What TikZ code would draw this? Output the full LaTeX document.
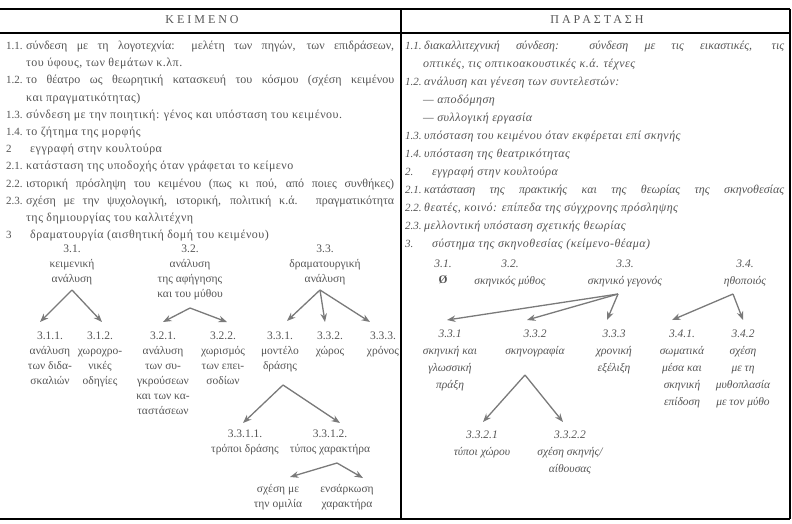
\documentclass[tikz,border=0pt]{standalone}
\usepackage{fontspec}
\setmainfont{Liberation Serif}
\usetikzlibrary{arrows.meta}
\definecolor{txt}{HTML}{555555}
\definecolor{arr}{HTML}{7A7A7A}
\newcommand\fsz{\fontsize{11.5}{15}\selectfont}
\newcommand\fszr{\fontsize{11.5}{17}\selectfont}
\newcommand\fszl{\fontsize{12}{15}\selectfont\addfontfeature{LetterSpace=4}}
\newcommand\fszn{\fontsize{11}{15}\selectfont}
\newcommand\fullL[1]{{\addfontfeature{LetterSpace=0}\makebox[368pt][s]{#1}}}
\newcommand\fullR[1]{{\addfontfeature{LetterSpace=0}\makebox[360pt][s]{#1}}}
\begin{document}
\begin{tikzpicture}[x=1pt,y=-1pt,
  lt/.style={anchor=mid west, inner sep=0pt, font=\fszl, text=txt},
  rt/.style={anchor=mid west, inner sep=0pt, font=\fszl\itshape, text=txt},
  ln/.style={anchor=mid west, inner sep=0pt, font=\fszn, text=txt},
  rn/.style={anchor=mid west, inner sep=0pt, font=\fszn\itshape, text=txt},
  ct/.style={anchor=north, align=center, inner sep=0pt, font=\fsz, text=txt},
  rct/.style={anchor=north, align=center, inner sep=0pt, font=\fszr\itshape, text=txt},
  hd/.style={anchor=mid, inner sep=0pt, font=\fontsize{12}{14}\selectfont\addfontfeature{LetterSpace=25}, text=txt},
  arw/.style={draw=arr, line width=1.3pt, -{Stealth[length=8.5pt,width=6.5pt]}},
  rule/.style={draw=black, line width=1.8pt},
  vrule/.style={draw=black, line width=1.3pt}]
\useasboundingbox (0,0) rectangle (792,523);
\fill[white] (0,0) rectangle (792,523);
% frame
\draw[draw=black, line width=1.4pt] (0,9) -- (790,9);
\draw[rule] (0,33) -- (790,33);
\draw[draw=black, line width=2.2pt] (0,519) -- (790,519);
\draw[vrule] (401,9) -- (401,519);
\draw[vrule] (790,9) -- (790,519);
% headers
\node[hd] (hk) at (202,21) {ΚΕΙΜΕΝΟ};
\node[hd] (hp) at (597,21) {ΠΑΡΑΣΤΑΣΗ};
% ---------------- left list
\node[ln] (ln1) at (6,47) {1.1.};
\node[lt] (lt1) at (26,47) {\fullL{σύνδεση με τη λογοτεχνία: μελέτη των πηγών, των επιδράσεων,}};
\node[lt] (lt1b) at (26,64) {του ύφους, των θεμάτων κ.λπ.};
\node[ln] (ln2) at (6,81) {1.2.};
\node[lt] (lt2) at (26,81) {\fullL{το θέατρο ως θεωρητική κατασκευή του κόσμου (σχέση κειμένου}};
\node[lt] (lt2b) at (26,99) {και πραγματικότητας)};
\node[ln] (ln3) at (6,116) {1.3.};
\node[lt] (lt3) at (26,116) {σύνδεση με την ποιητική: γένος και υπόσταση του κειμένου.};
\node[ln] (ln4) at (6,133) {1.4.};
\node[lt] (lt4) at (26,133) {το ζήτημα της μορφής};
\node[ln] (ln5) at (6,150) {2};
\node[lt] (lt5) at (30,150) {εγγραφή στην κουλτούρα};
\node[ln] (ln6) at (6,167) {2.1.};
\node[lt] (lt6) at (26,167) {κατάσταση της υποδοχής όταν γράφεται το κείμενο};
\node[ln] (ln7) at (6,185) {2.2.};
\node[lt] (lt7) at (26,185) {\fullL{ιστορική πρόσληψη του κειμένου (πως κι πού, από ποιες συνθήκες)}};
\node[ln] (ln8) at (6,202) {2.3.};
\node[lt] (lt8) at (26,202) {\fullL{σχέση με την ψυχολογική, ιστορική, πολιτική κ.ά. πραγματικότητα}};
\node[lt] (lt8b) at (26,219) {της δημιουργίας του καλλιτέχνη};
\node[ln] (ln9) at (6,236) {3};
\node[lt] (lt9) at (30,236) {δραματουργία (αισθητική δομή του κειμένου)};
% ---------------- left tree
\node[ct] (p31) at (72,244.5) {3.1.\\κειμενική\\ανάλυση};
\node[ct] (p32) at (190,244.5) {3.2.\\ανάλυση\\της αφήγησης\\και του μύθου};
\node[ct] (p33) at (325,244.5) {3.3.\\δραματουργική\\ανάλυση};
\node[ct] (c311) at (50,331.5) {3.1.1.\\ανάλυση\\των διδα-\\σκαλιών};
\node[ct] (c312) at (100,331.5) {3.1.2.\\χωροχρο-\\νικές\\οδηγίες};
\node[ct] (c321) at (163,331.5) {3.2.1.\\ανάλυση\\των συ-\\γκρούσεων\\και των κα-\\ταστάσεων};
\node[ct] (c322) at (223,331.5) {3.2.2.\\χωρισμός\\των επει-\\σοδίων};
\node[ct] (c331) at (280,331.5) {3.3.1.\\μοντέλο\\δράσης};
\node[ct] (c332) at (330,331.5) {3.3.2.\\χώρος};
\node[ct] (c333) at (383,331.5) {3.3.3.\\χρόνος};
\node[ct] (g1) at (245,429.5) {3.3.1.1.\\τρόποι δράσης};
\node[ct] (g2) at (330,429.5) {3.3.1.2.\\τύπος χαρακτήρα};
\node[ct] (h1) at (278,484.5) {σχέση με\\την ομιλία};
\node[ct] (h2) at (347,484.5) {ενσάρκωση\\χαρακτήρα};
\coordinate (a31) at (72,290);
\coordinate (a32) at (190,308);
\coordinate (a33) at (320,290);
\coordinate (a331) at (283,385);
\coordinate (a3312) at (337,463);
\coordinate (t311) at (40,322);
\coordinate (t312) at (102,322);
\coordinate (t321) at (163,322);
\coordinate (t322) at (227,322);
\coordinate (t331) at (287,321);
\coordinate (t332) at (325,322);
\coordinate (t333) at (370,322);
\coordinate (tg1) at (243,423);
\coordinate (tg2) at (340,423);
\coordinate (th1) at (290,477);
\coordinate (th2) at (363,478);
\draw[arw] (a31) -- (t311);
\draw[arw] (a31) -- (t312);
\draw[arw] (a32) -- (t321);
\draw[arw] (a32) -- (t322);
\draw[arw] (a33) -- (t331);
\draw[arw] (a33) -- (t332);
\draw[arw] (a33) -- (t333);
\draw[arw] (a331) -- (tg1);
\draw[arw] (a331) -- (tg2);
\draw[arw] (a3312) -- (th1);
\draw[arw] (a3312) -- (th2);
% ---------------- right list
\node[rn] (rn1) at (405,47) {1.1.};
\node[rt] (rt1) at (424,47) {\fullR{διακαλλιτεχνική σύνδεση: σύνδεση με τις εικαστικές, τις}};
\node[rt] (rt1b) at (423,65) {οπτικές, τις οπτικοακουστικές κ.ά. τέχνες};
\node[rn] (rn2) at (405,83) {1.2.};
\node[rt] (rt2) at (424,83) {ανάλυση και γένεση των συντελεστών:};
\node[rt] (rt2a) at (423,101) {— αποδόμηση};
\node[rt] (rt2b) at (423,119) {— συλλογική εργασία};
\node[rn] (rn3) at (405,137) {1.3.};
\node[rt] (rt3) at (424,137) {υπόσταση του κειμένου όταν εκφέρεται επί σκηνής};
\node[rn] (rn4) at (405,155) {1.4.};
\node[rt] (rt4) at (424,155) {υπόσταση της θεατρικότητας};
\node[rn] (rn5) at (405,173) {2.};
\node[rt] (rt5) at (432,173) {εγγραφή στην κουλτούρα};
\node[rn] (rn6) at (405,191) {2.1.};
\node[rt] (rt6) at (424,191) {\fullR{κατάσταση της πρακτικής και της θεωρίας της σκηνοθεσίας}};
\node[rn] (rn7) at (405,209) {2.2.};
\node[rt] (rt7) at (424,209) {θεατές, κοινό: επίπεδα της σύγχρονης πρόσληψης};
\node[rn] (rn8) at (405,227) {2.3.};
\node[rt] (rt8) at (424,227) {μελλοντική υπόσταση σχετικής θεωρίας};
\node[rn] (rn9) at (405,245) {3.};
\node[rt] (rt9) at (432,245) {σύστημα της σκηνοθεσίας (κείμενο-θέαμα)};
% ---------------- right tree
\node[rct] (r31) at (443,259.5) {3.1.};
\node[anchor=mid, inner sep=0pt, font=\fsz\bfseries, text=txt] (r31x) at (443,281) {Ø};
\node[rct] (r32) at (510,259.5) {3.2.\\σκηνικός μύθος};
\node[rct] (r33) at (625,259.5) {3.3.\\σκηνικό γεγονός};
\node[rct] (r34) at (745,259.5) {3.4.\\ηθοποιός};
\node[rct] (s331) at (450,329.5) {3.3.1\\σκηνική και\\γλωσσική\\πράξη};
\node[rct] (s332) at (535,329.5) {3.3.2\\σκηνογραφία};
\node[rct] (s333) at (614,329.5) {3.3.3\\χρονική\\εξέλιξη};
\node[rct] (s341) at (682,329.5) {3.4.1.\\σωματικά\\μέσα και\\σκηνική\\επίδοση};
\node[rct] (s342) at (743,329.5) {3.4.2\\σχέση\\με τη\\μυθοπλασία\\με τον μύθο};
\node[rct] (d1) at (482,430.5) {3.3.2.1\\τύποι χώρου};
\node[rct] (d2) at (570,430.5) {3.3.2.2\\σχέση σκηνής/\\αίθουσας};
\coordinate (b33) at (618,294);
\coordinate (b34) at (733,294);
\coordinate (b332) at (525,375);
\coordinate (u331) at (447,320);
\coordinate (u332) at (527,320);
\coordinate (u333) at (607,320);
\coordinate (u341) at (672,320);
\coordinate (u342) at (743,320);
\coordinate (v1) at (483,422);
\coordinate (v2) at (563,422);
\draw[arw] (b33) -- (u331);
\draw[arw] (b33) -- (u332);
\draw[arw] (b33) -- (u333);
\draw[arw] (b34) -- (u341);
\draw[arw] (b34) -- (u342);
\draw[arw] (b332) -- (v1);
\draw[arw] (b332) -- (v2);
\end{tikzpicture}
\end{document}
